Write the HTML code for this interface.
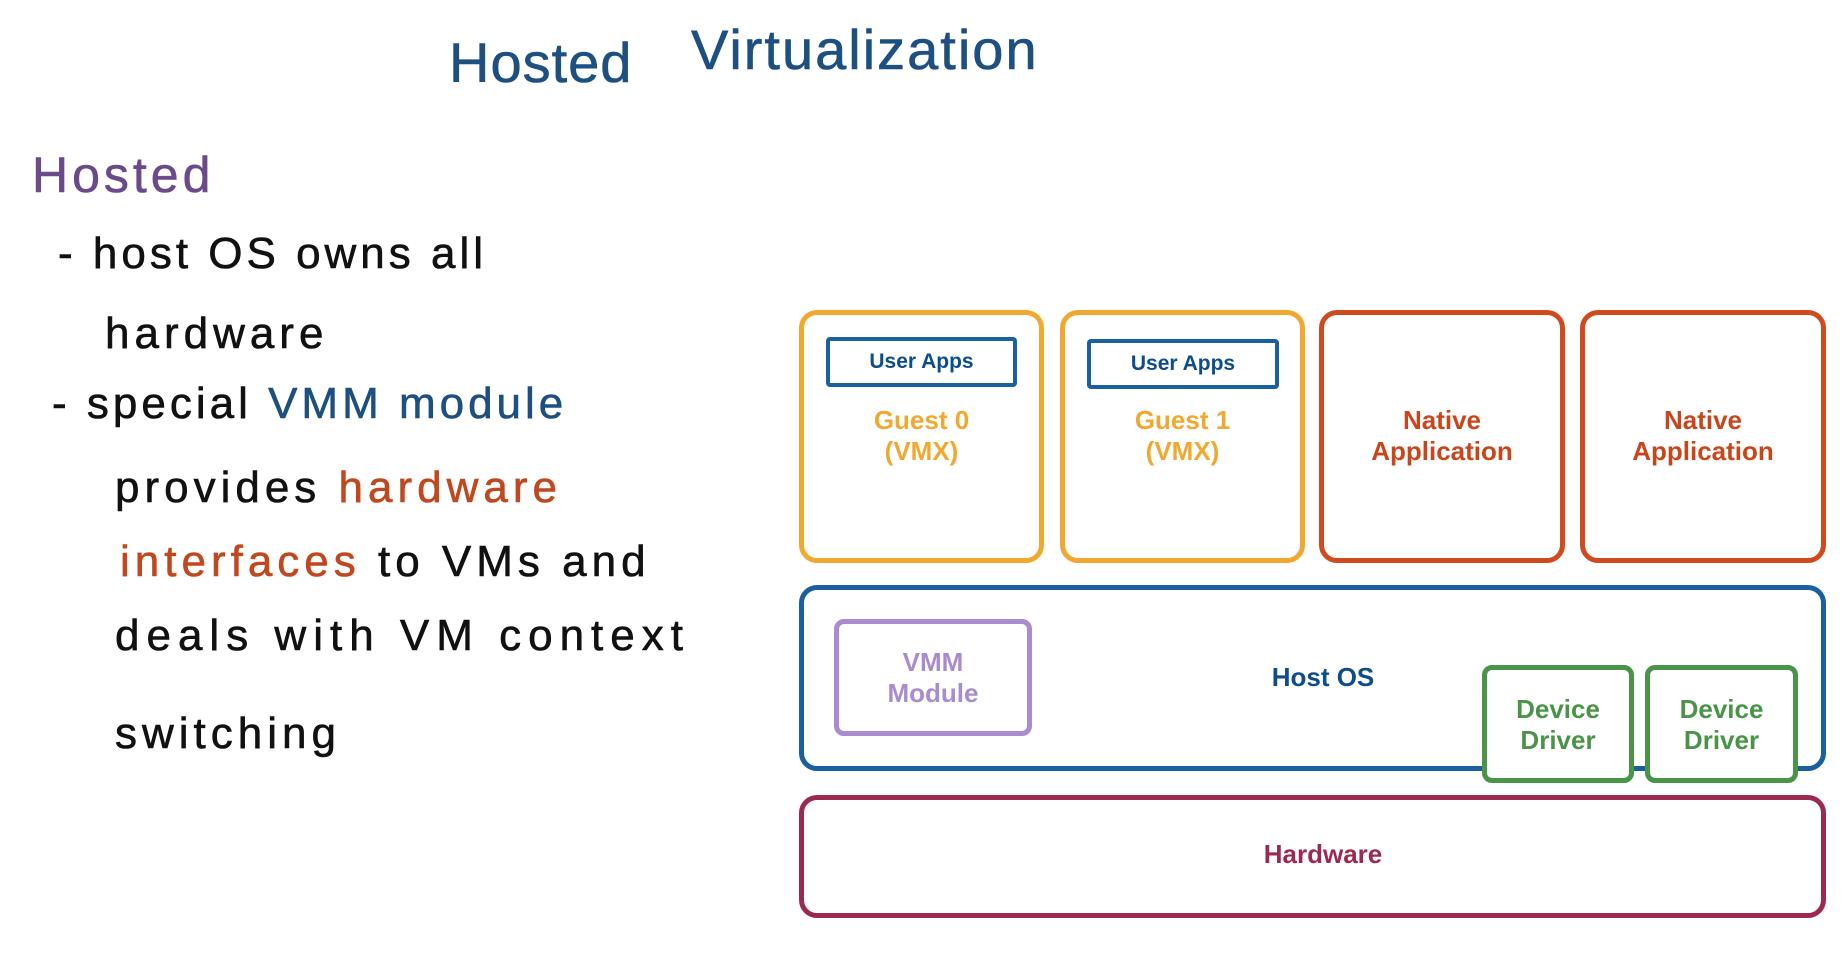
<!DOCTYPE html>
<html><head><meta charset="utf-8"><style>
body{margin:0;width:1844px;height:958px;background:#fff;position:relative;overflow:hidden;font-family:"Liberation Sans",sans-serif}
.b{position:absolute;box-sizing:border-box;border-radius:18px;background:transparent}
.t{position:absolute;font-weight:bold;text-align:center;line-height:31px;font-size:26px}
.h{position:absolute;white-space:nowrap;font-size:44px;color:#111;letter-spacing:5px;line-height:1;-webkit-text-stroke:0.6px currentColor}
</style></head><body>
<div class="h" style="left:449px;top:35px;font-size:56px;color:#1d4f80;letter-spacing:1px">Hosted</div>
<div class="h" style="left:691px;top:22px;font-size:56px;color:#1d4f80;letter-spacing:2px">Virtualization</div>
<div class="h" style="left:32px;top:150px;font-size:50px;color:#6a4a8a;letter-spacing:4px">Hosted</div>
<div class="h" style="left:58px;top:232px;letter-spacing:4px">- host OS owns all</div>
<div class="h" style="left:105px;top:312px">hardware</div>
<div class="h" style="left:52px;top:382px;letter-spacing:4px">- special <span style="color:#1d4f80">VMM module</span></div>
<div class="h" style="left:115px;top:466px">provides <span style="color:#c0481e">hardware</span></div>
<div class="h" style="left:120px;top:540px"><span style="color:#c0481e">interfaces</span> to VMs and</div>
<div class="h" style="left:115px;top:614px;letter-spacing:7px">deals with VM context</div>
<div class="h" style="left:115px;top:712px">switching</div>

<div class="b" style="left:799px;top:310px;width:245px;height:253px;border:5px solid #f0a830"></div>
<div class="b" style="left:1060px;top:310px;width:245px;height:253px;border:5px solid #f0a830"></div>
<div class="b" style="left:1319px;top:310px;width:246px;height:253px;border:5px solid #d04a1e"></div>
<div class="b" style="left:1580px;top:310px;width:246px;height:253px;border:5px solid #d04a1e"></div>
<div class="b" style="left:826px;top:337px;width:191px;height:50px;border:4px solid #1a5f9e;border-radius:4px"></div>
<div class="b" style="left:1087px;top:339px;width:192px;height:50px;border:4px solid #1a5f9e;border-radius:4px"></div>
<div class="t" style="left:826px;top:346px;width:191px;font-size:21px;color:#0d4d8a">User Apps</div>
<div class="t" style="left:1087px;top:348px;width:192px;font-size:21px;color:#0d4d8a">User Apps</div>
<div class="t" style="left:799px;top:405px;width:245px;color:#f0a830">Guest 0<br>(VMX)</div>
<div class="t" style="left:1060px;top:405px;width:245px;color:#f0a830">Guest 1<br>(VMX)</div>
<div class="t" style="left:1319px;top:405px;width:246px;color:#c8461c">Native<br>Application</div>
<div class="t" style="left:1580px;top:405px;width:246px;color:#c8461c">Native<br>Application</div>

<div class="b" style="left:799px;top:585px;width:1027px;height:186px;border:5px solid #1a5f9e"></div>
<div class="b" style="left:834px;top:619px;width:198px;height:117px;border:5px solid #a98bd0;border-radius:10px"></div>
<div class="t" style="left:834px;top:647px;width:198px;color:#a98bd0">VMM<br>Module</div>
<div class="t" style="left:1223px;top:662px;width:200px;color:#0d4d8a">Host OS</div>
<div class="b" style="left:1482px;top:665px;width:152px;height:118px;border:5px solid #4a9448;border-radius:10px;background:#fff"></div>
<div class="b" style="left:1645px;top:665px;width:153px;height:118px;border:5px solid #4a9448;border-radius:10px;background:#fff"></div>
<div class="t" style="left:1482px;top:694px;width:152px;color:#4a9448">Device<br>Driver</div>
<div class="t" style="left:1645px;top:694px;width:153px;color:#4a9448">Device<br>Driver</div>

<div class="b" style="left:799px;top:795px;width:1027px;height:123px;border:5px solid #9c2a50"></div>
<div class="t" style="left:1223px;top:839px;width:200px;color:#9c2a50">Hardware</div>
</body></html>
